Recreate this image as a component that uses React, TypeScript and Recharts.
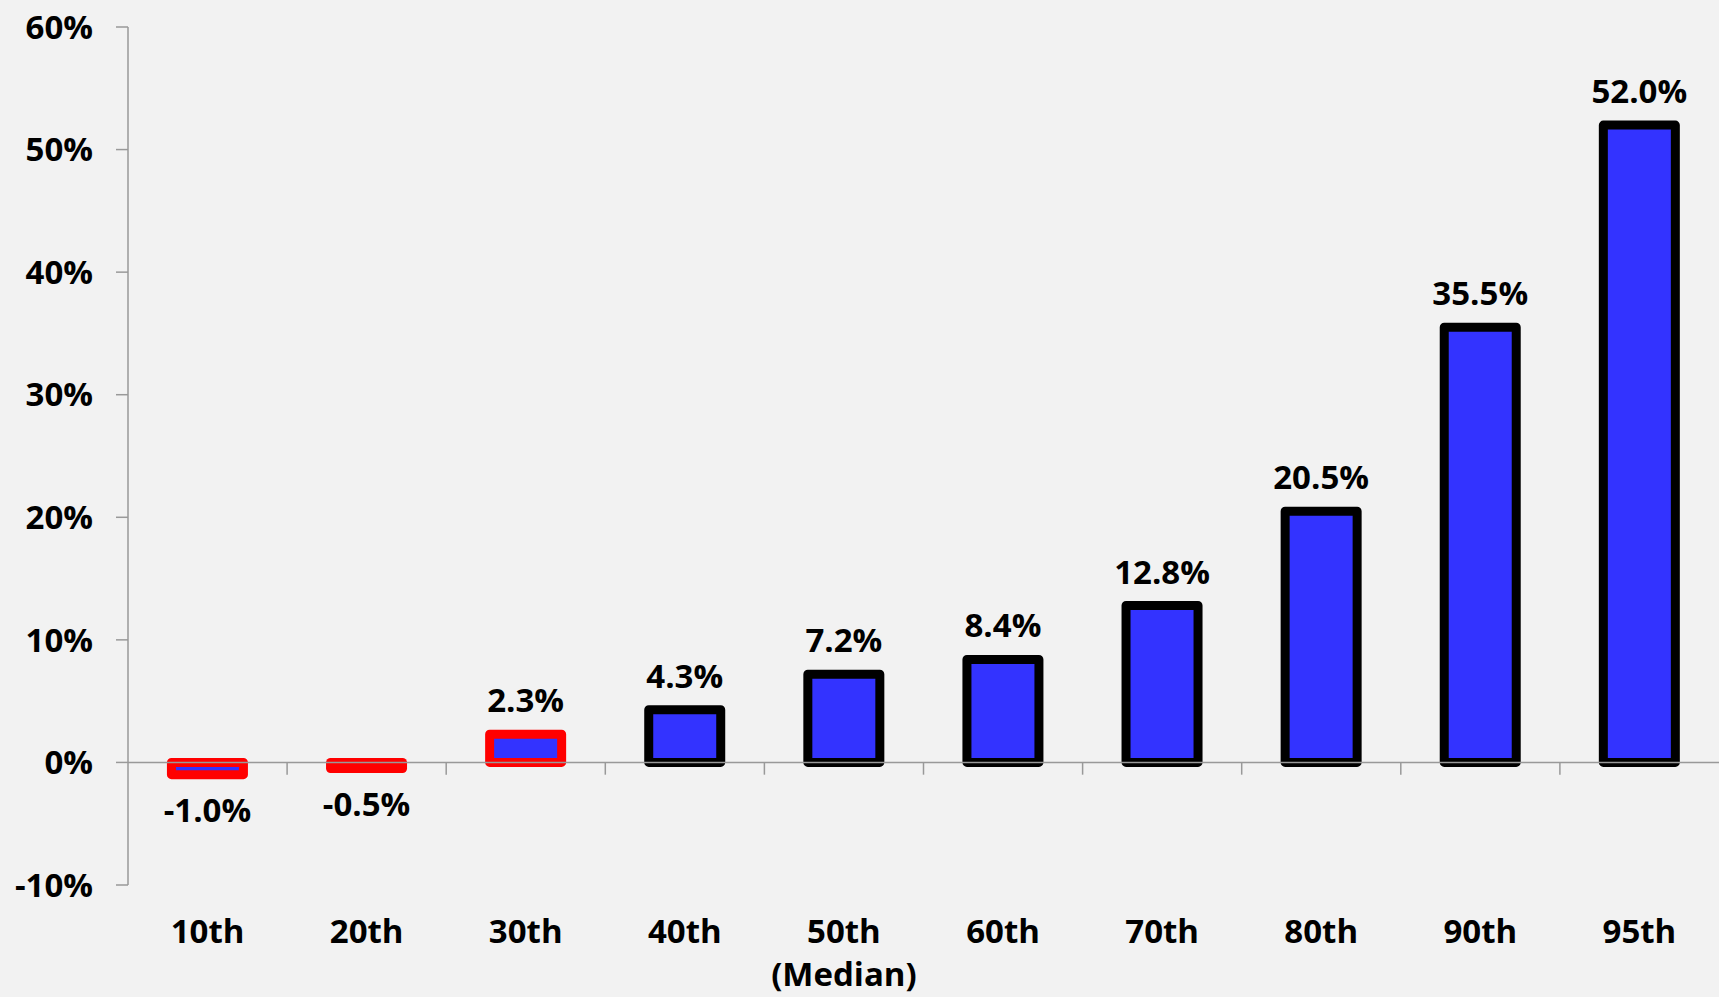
import { BarChart, Bar, XAxis, YAxis, Cell, LabelList, ReferenceLine } from 'recharts';

const categories = ['10th', '20th', '30th', '40th', '50th', '60th', '70th', '80th', '90th', '95th'];
const subLabels = ['', '', '', '', '(Median)', '', '', '', '', ''];
const returns = [-1.0, -0.5, 2.3, 4.3, 7.2, 8.4, 12.8, 20.5, 35.5, 52.0];
const highlighted = [true, true, true, false, false, false, false, false, false, false];
const yTicks = [-10, 0, 10, 20, 30, 40, 50, 60];

const chartData = categories.map((name, i) => ({
    name,
    value: returns[i],
}));

const FONT = '"Open Sans", sans-serif';

const CategoryTick = (props: any) => {
    const { x, y, payload } = props;
    const idx = categories.indexOf(payload.value);
    return (
        <g>
            <text x={x} y={y} dy={58} textAnchor="middle" fontFamily={FONT} fontWeight={700} fontSize={33} fill="#000">
                {payload.value}
            </text>
            {subLabels[idx] ? (
                <text x={x} y={y} dy={101} textAnchor="middle" fontFamily={FONT} fontWeight={700} fontSize={33} fill="#000">
                    {subLabels[idx]}
                </text>
            ) : null}
        </g>
    );
};

const ValueLabel = (props: any) => {
    const { x, y, width, height, value } = props;
    const top = Math.min(y, y + height);
    const bottom = Math.max(y, y + height);
    const ty = value >= 0 ? top - 22 : bottom + 47;
    return (
        <text x={x + width / 2} y={ty} textAnchor="middle" fontFamily={FONT} fontWeight={700} fontSize={33} fill="#000">
            {value.toFixed(1)}%
        </text>
    );
};

export default function App() {
    return (
        <div style={{ background: '#f2f2f2', width: 1719, height: 997 }}>
            <style>{`body{margin:0;background:#f2f2f2}`}</style>
            <BarChart
                width={1719}
                height={997}
                data={chartData}
                margin={{ top: 27, right: 0, bottom: 0, left: 0 }}
                barCategoryGap="27.3%"
            >
                <XAxis
                    dataKey="name"
                    axisLine={false}
                    tickLine={false}
                    tickSize={0}
                    tickMargin={0}
                    height={112}
                    interval={0}
                    tick={<CategoryTick />}
                />
                <YAxis
                    width={128}
                    domain={[-10, 60]}
                    ticks={yTicks}
                    interval={0}
                    tickFormatter={(v: number) => `${v}%`}
                    axisLine={{ stroke: '#999', strokeWidth: 1.5 }}
                    tickLine={{ stroke: '#999', strokeWidth: 1.5 }}
                    tickSize={12}
                    tickMargin={23}
                    tick={{ fontFamily: FONT, fontWeight: 700, fontSize: 33, fill: '#000' }}
                />
                <ReferenceLine y={0} stroke="#999" strokeWidth={1.5} />
                {categories.slice(0, 9).map((c) => (
                    <ReferenceLine
                        key={c}
                        segment={[{ x: c, y: 0 }, { x: c, y: -1 }]}
                        position="end"
                        stroke="#999"
                        strokeWidth={1.5}
                    />
                ))}
                <Bar dataKey="value" fill="#3333ff" strokeWidth={9} strokeLinejoin="round" isAnimationActive={false}>
                    {chartData.map((d, i) => (
                        <Cell key={d.name} fill="#3333ff" stroke={highlighted[i] ? '#ff0000' : '#000000'} />
                    ))}
                    <LabelList dataKey="value" content={<ValueLabel />} />
                </Bar>
            </BarChart>
        </div>
    );
}
